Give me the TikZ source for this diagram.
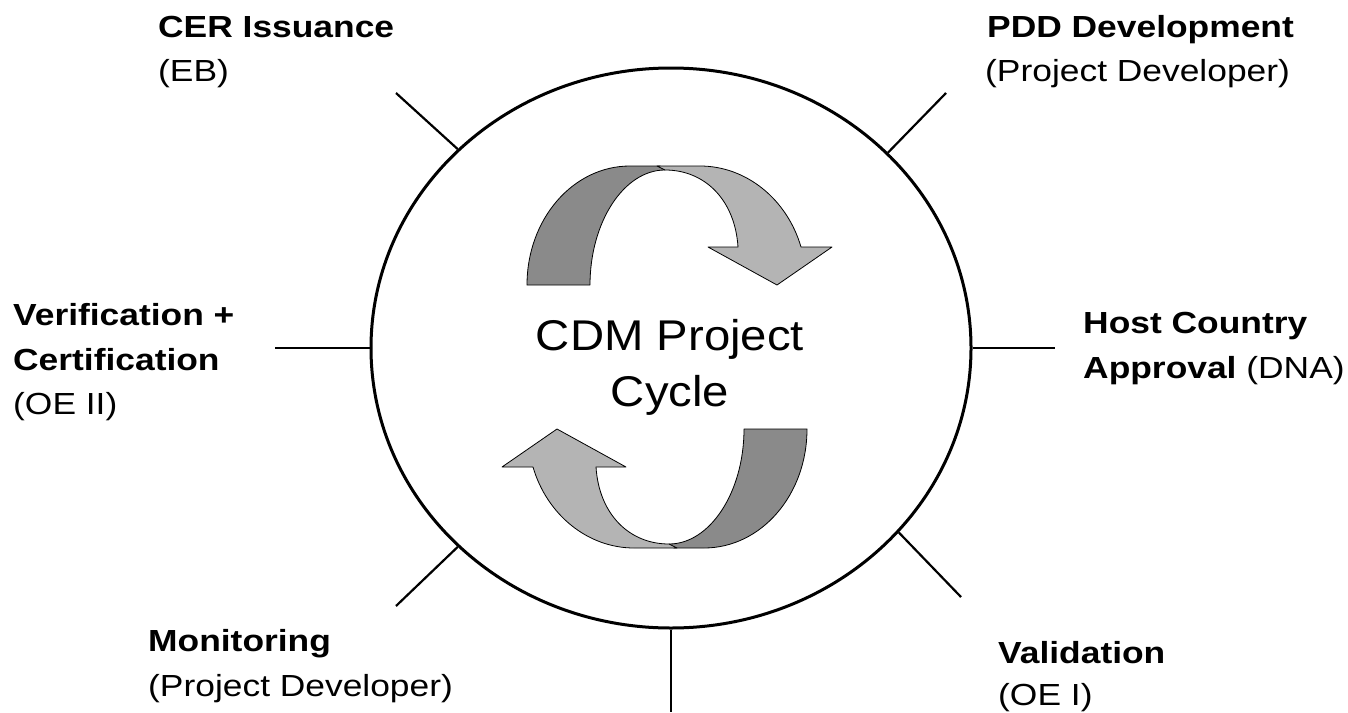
\documentclass[tikz,border=0pt]{standalone}
\usepackage{fontspec}
\setmainfont{Liberation Sans}
\newfontfamily\labfont{Liberation Sans}[FakeStretch=1.16]
\newfontfamily\ctrfont{Liberation Sans}[FakeStretch=1.1]
\usetikzlibrary{shapes.geometric}
\definecolor{darkband}{HTML}{8A8A8A}
\definecolor{lightband}{HTML}{B4B4B4}
\tikzset{
  lab/.style={anchor=base west, inner sep=0pt, font=\labfont\fontsize{30.5}{36}\selectfont},
  ctr/.style={anchor=base, inner sep=0pt, font=\ctrfont\fontsize{43}{50}\selectfont},
  tickline/.style={line width=2.2pt},
  band/.style={draw=black, line width=0.8pt, line join=round},
  cyclearrow/.pic={
    \path[band, fill=darkband] (-140,-72) .. controls (-140,-138) and (-94,-191) .. (-37,-191)
      -- (-7,-191) -- (-2,-187)
      .. controls (-43,-187) and (-77,-135) .. (-77,-72) -- cycle;
    \path[band, fill=lightband] (-10,-191) -- (33,-191) .. controls (79,-191) and (120,-158) .. (134,-110)
      -- (165,-110) -- (110,-72) -- (41,-110) -- (71,-110)
      .. controls (68,-157) and (38,-187) .. (-2,-187) -- cycle;
  }
}
\begin{document}
\begin{tikzpicture}[x=1pt,y=-1pt]
\useasboundingbox (0,0) rectangle (1348,712);
\fill[white] (0,0) rectangle (1348,712);

% main cycle
\node[ellipse, draw, line width=3pt, minimum width=600pt, minimum height=560pt, inner sep=0pt] (cyc) at (671,348) {};

% free ends of the ticks
\coordinate (eCER) at (396,93);
\coordinate (ePDD) at (946,93);
\coordinate (eHost) at (1055,348);
\coordinate (eVal) at (961,597);
\coordinate (eBot) at (671,712);
\coordinate (eMon) at (396,606);
\coordinate (eVer) at (275,348);

\draw[tickline] (cyc.137.5) -- (eCER);
\draw[tickline] (cyc.42.5) -- (ePDD);
\draw[tickline] (cyc.0) -- (eHost);
\draw[tickline] (cyc.-39.3) -- (eVal);
\draw[tickline] (cyc.270) -- (eBot);
\draw[tickline] (cyc.-137.5) -- (eMon);
\draw[tickline] (cyc.180) -- (eVer);

% circular arrows
\pic at (667,357) {cyclearrow};
\pic[rotate=180] at (667,357) {cyclearrow};

% centre text
\node[ctr] (t1) at (670,350) {CDM Project};
\node[ctr] (t2) at (670,406) {Cycle};

% labels
\node[lab] (cer1) at (158,37) {\bfseries CER Issuance};
\node[lab] (cer2) at (158,81) {(EB)};
\node[lab] (pdd1) at (987,37) {\bfseries PDD Development};
\node[lab] (pdd2) at (985,81) {(Project Developer)};
\node[lab] (ver1) at (13,325) {\bfseries Verification +};
\node[lab] (ver2) at (13,370) {\bfseries Certification};
\node[lab] (ver3) at (13,414) {(OE II)};
\node[lab] (host1) at (1083,333) {\bfseries Host Country};
\node[lab] (host2) at (1083,378) {\textbf{Approval} (DNA)};
\node[lab] (mon1) at (148,651) {\bfseries Monitoring};
\node[lab] (mon2) at (148,696) {(Project Developer)};
\node[lab] (val1) at (998,663) {\bfseries Validation};
\node[lab] (val2) at (998,705) {(OE I)};
\end{tikzpicture}
\end{document}
